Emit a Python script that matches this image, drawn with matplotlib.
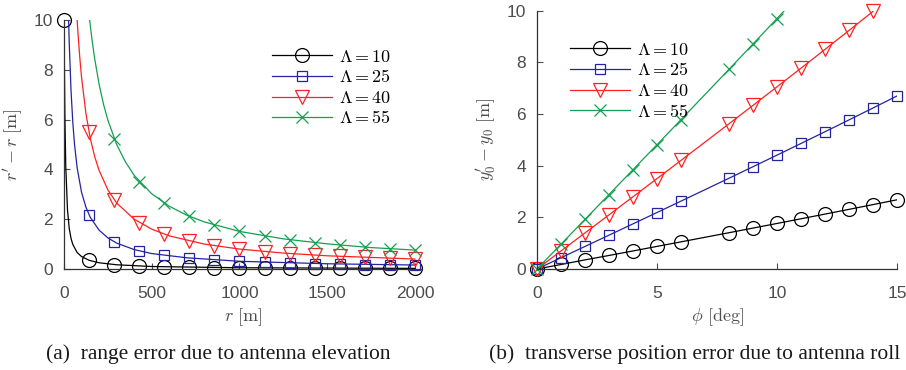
import numpy as np
import matplotlib
matplotlib.use("Agg")
import matplotlib.pyplot as plt

# ===== Data =====
LAMBDAS = [10, 25, 40, 55]
COLORS = ["#000000", "#2424a0", "#ff2020", "#14a050"]
MARKERS = ["o", "s", "v", "x"]
MSIZES = [10, 7, 10, 8]

# (a) range error: smooth curves and marker points
r_line = {
    10: [0, 5, 10, 20, 30, 40, 50, 75, 100, 143, 200, 300, 500, 1000, 2000],
    25: [26, 30, 40, 50, 60, 75, 100, 125, 150, 200, 250, 300, 400, 500, 700, 1000, 1500, 2000],
    40: [75, 80, 90, 100, 125, 150, 175, 200, 250, 300, 400, 500, 600, 800, 1000, 1250, 1500, 2000],
    55: [146, 150, 160, 175, 200, 225, 250, 300, 350, 400, 500, 600, 700, 800, 1000, 1250, 1500, 1750, 2000],
}
dr_line = {
    10: [10, 6.18, 4.14, 2.36, 1.62, 1.23, 0.99, 0.66, 0.50, 0.35, 0.25, 0.17, 0.10, 0.05, 0.025],
    25: [10.07, 9.05, 7.17, 5.90, 5.00, 4.06, 3.08, 2.48, 2.07, 1.56, 1.25, 1.04, 0.78, 0.62, 0.45, 0.31, 0.21, 0.16],
    40: [10.0, 9.44, 8.49, 7.70, 6.24, 5.24, 4.51, 3.96, 3.18, 2.65, 2.00, 1.60, 1.33, 1.00, 0.80, 0.64, 0.53, 0.40],
    55: [10.02, 9.77, 9.19, 8.44, 7.42, 6.62, 5.98, 5.00, 4.30, 3.76, 3.02, 2.52, 2.16, 1.89, 1.51, 1.21, 1.01, 0.86, 0.76],
}
r_mark = {
    10: [0, 143, 286, 429, 571, 714, 857, 1000, 1143, 1286, 1429, 1571, 1714, 1857, 2000],
    25: [143, 286, 429, 571, 714, 857, 1000, 1143, 1286, 1429, 1571, 1714, 1857, 2000],
    40: [143, 286, 429, 571, 714, 857, 1000, 1143, 1286, 1429, 1571, 1714, 1857, 2000],
    55: [286, 429, 571, 714, 857, 1000, 1143, 1286, 1429, 1571, 1714, 1857, 2000],
}
dr_mark = {
    10: [10, 0.35, 0.17, 0.12, 0.09, 0.07, 0.06, 0.05, 0.04, 0.04, 0.035, 0.03, 0.03, 0.027, 0.025],
    25: [2.16, 1.08, 0.73, 0.55, 0.44, 0.36, 0.31, 0.27, 0.24, 0.22, 0.20, 0.18, 0.17, 0.16],
    40: [5.49, 2.78, 1.86, 1.40, 1.12, 0.93, 0.80, 0.70, 0.62, 0.56, 0.51, 0.47, 0.43, 0.40],
    55: [5.24, 3.51, 2.64, 2.12, 1.76, 1.51, 1.32, 1.18, 1.06, 0.96, 0.88, 0.81, 0.76],
}

# (b) transverse error vs roll angle
phi = {
    10: [0, 1, 2, 3, 4, 5, 6, 8, 9, 10, 11, 12, 13, 14, 15],
    25: [0, 1, 2, 3, 4, 5, 6, 8, 9, 10, 11, 12, 13, 14, 15],
    40: [0, 1, 2, 3, 4, 5, 6, 8, 9, 10, 11, 12, 13, 14],
    55: [0, 1, 2, 3, 4, 5, 6, 8, 9, 10],
}
dy = {
    10: [0, 0.175, 0.353, 0.524, 0.699, 0.875, 1.051, 1.405, 1.584, 1.763, 1.944, 2.126, 2.309, 2.493, 2.679],
    25: [0, 0.436, 0.873, 1.310, 1.748, 2.187, 2.628, 3.514, 3.960, 4.408, 4.860, 5.314, 5.772, 6.233, 6.699],
    40: [0, 0.698, 1.397, 2.096, 2.797, 3.500, 4.204, 5.622, 6.335, 7.053, 7.775, 8.502, 9.235, 9.973],
    55: [0, 0.960, 1.921, 2.882, 3.846, 4.812, 5.781, 7.730, 8.711, 9.698],
}
# green line runs on a bit past its last marker
phi_ext = {55: 11}
dy_ext = {55: 10.69}

# ===== Style =====
GRAY = "#4d4d4d"
SPINE = "#333333"
plt.rcParams["font.family"] = ["Liberation Sans", "DejaVu Sans"]
plt.rcParams["mathtext.fontset"] = "cm"
plt.rcParams["xtick.direction"] = "in"
plt.rcParams["ytick.direction"] = "in"

fig = plt.figure(figsize=(9.06, 3.70), dpi=100)
ax1 = fig.add_axes([64 / 906, 1 - 269 / 370, 358 / 906, 249 / 370])
ax2 = fig.add_axes([537 / 906, 1 - 269 / 370, 360 / 906, 258.3 / 370])


def style_axes(ax):
    for s in ("top", "right"):
        ax.spines[s].set_visible(False)
    for s in ("left", "bottom"):
        ax.spines[s].set_color(SPINE)
        ax.spines[s].set_linewidth(0.9)
    ax.tick_params(colors=GRAY, labelsize=12.5, length=4, width=0.8)
    ax.tick_params(axis="x", pad=12)
    ax.tick_params(axis="y", pad=8)
    for t in ax.get_xticklabels() + ax.get_yticklabels():
        t.set_color(GRAY)


# --- (a) ---
for i, L in enumerate(LAMBDAS):
    c = COLORS[i]
    ax1.plot(r_line[L], dr_line[L], "-", color=c, lw=0.9)
    ax1.plot(r_mark[L], dr_mark[L], linestyle="none", marker=MARKERS[i], ms=MSIZES[i],
             mfc="none", mec=c, mew=0.9, clip_on=False)
    # legend proxy
    ax1.plot([], [], "-", color=c, lw=0.9, marker=MARKERS[i], ms=MSIZES[i],
             mfc="none", mec=c, mew=0.9, label=rf"$\Lambda = {L}$")

ax1.set_xlim(0, 2040)
ax1.set_ylim(0, 10)
ax1.set_xticks([0, 500, 1000, 1500, 2000])
ax1.set_yticks([0, 2, 4, 6, 8, 10])
style_axes(ax1)
ax1.set_xlabel(r"$r\ [\mathrm{m}]$", fontsize=13, color=GRAY, labelpad=4)
ax1.set_ylabel(r"$r^{\prime} - r\ [\mathrm{m}]$", fontsize=13, color=GRAY, labelpad=6)
ax1.legend(loc="upper left", bbox_to_anchor=(0.582, 0.885), frameon=False,
           fontsize=13, handlelength=3.3, borderpad=0, borderaxespad=0,
           labelspacing=0.2, handletextpad=0.4)

# --- (b) ---
for i, L in enumerate(LAMBDAS):
    c = COLORS[i]
    xs = list(phi[L])
    ys = list(dy[L])
    if L in phi_ext:
        xs.append(phi_ext[L])
        ys.append(dy_ext[L])
    ax2.plot(xs, ys, "-", color=c, lw=0.9)
    ax2.plot(phi[L], dy[L], linestyle="none", marker=MARKERS[i], ms=MSIZES[i],
             mfc="none", mec=c, mew=0.9, clip_on=False)
    ax2.plot([], [], "-", color=c, lw=0.9, marker=MARKERS[i], ms=MSIZES[i],
             mfc="none", mec=c, mew=0.9, label=rf"$\Lambda = {L}$")

ax2.set_xlim(0, 15)
ax2.set_ylim(0, 10)
ax2.set_xticks([0, 5, 10, 15])
ax2.set_yticks([0, 2, 4, 6, 8, 10])
style_axes(ax2)
ax2.set_xlabel(r"$\phi\ [\mathrm{deg}]$", fontsize=13, color=GRAY, labelpad=4)
ax2.set_ylabel(r"$y_0^{\prime} - y_0\ [\mathrm{m}]$", fontsize=13, color=GRAY, labelpad=6)
ax2.legend(loc="upper left", bbox_to_anchor=(0.093, 0.88), frameon=False,
           fontsize=13, handlelength=3.3, borderpad=0, borderaxespad=0,
           labelspacing=0.2, handletextpad=0.4)

# captions
cap_font = ["Liberation Serif", "DejaVu Serif"]
fig.text(218 / 906, 1 - 354 / 370, "(a)  range error due to antenna elevation",
         ha="center", va="center", fontsize=15.5, family=cap_font, color="#1a1a1a")
fig.text(695 / 906, 1 - 354 / 370, "(b)  transverse position error due to antenna roll",
         ha="center", va="center", fontsize=15.5, family=cap_font, color="#1a1a1a")

fig.savefig("out.png", dpi=100)
